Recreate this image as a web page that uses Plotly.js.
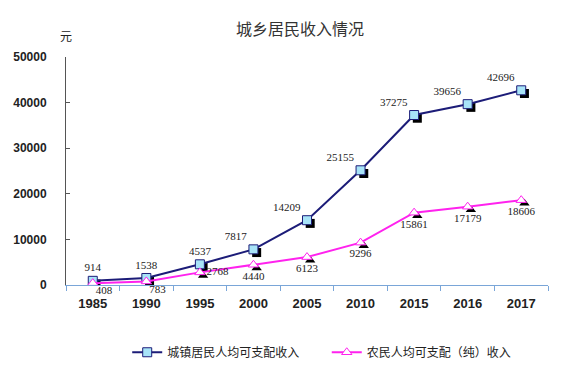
<!DOCTYPE html>
<html><head><meta charset="utf-8">
<script src="https://cdn.plot.ly/plotly-3.0.1.min.js"></script>
<style>html,body{margin:0;padding:0;background:#fff}</style>
</head><body><div id="chart" style="width:586px;height:391px"></div>
<script>
const years = ['1985','1990','1995','2000','2005','2010','2015','2016','2017'];
const urban = [914,1538,4537,7817,14209,25155,37275,39656,42696];
const rural = [408,783,2768,4440,6123,9296,15861,17179,18606];
const urbanName = '城镇居民人均可支配收入';
const ruralName = '农民人均可支配（纯）收入';
const urbanPos = ['top center','top center','top center','top left','top left','top left','top left','top left','top left'];
const ruralPos = ['bottom right','bottom right','middle right','bottom center','bottom center','bottom center','bottom center','bottom center','bottom center'];

const labelFont = {family:'Liberation Serif, Times New Roman, serif', size:11, color:'#222'};
// the first two rural labels are drawn by a separate text trace so they sit closer to their points
const nearAxis = [0,1];
const ruralText = rural.map((v,i) => nearAxis.includes(i) ? '' : String(v));

const traces = [
  // shadows on the base (hidden) axes, drawn underneath
  {x:years, y:urban, xaxis:'x', yaxis:'y', mode:'markers', showlegend:false, hoverinfo:'skip',
   marker:{symbol:'square', size:9, color:'#000'}},
  {x:years, y:rural, xaxis:'x', yaxis:'y', mode:'markers', showlegend:false, hoverinfo:'skip',
   marker:{symbol:'triangle-up', size:9, color:'#000'}},
  {x:years, y:urban, xaxis:'x2', yaxis:'y2', name:urbanName, legend:'legend',
   mode:'lines+markers+text', text:urban.map(String),
   textposition:urbanPos, textfont:labelFont, cliponaxis:false,
   line:{color:'#1c1c78', width:2},
   marker:{symbol:'square', size:9, color:'#a8e4f8', line:{color:'#1c1c78', width:1}}},
  {x:years, y:rural, xaxis:'x2', yaxis:'y2', name:ruralName, legend:'legend2',
   mode:'lines+markers+text', text:ruralText,
   textposition:ruralPos, textfont:labelFont, cliponaxis:false,
   line:{color:'#ff22ee', width:2},
   marker:{symbol:'triangle-up', size:9, color:'#ffffff', line:{color:'#ff22ee', width:1}}},
  {x:nearAxis.map(i => years[i]), y:nearAxis.map(i => rural[i]), xaxis:'x2', yaxis:'y2',
   mode:'markers+text', text:nearAxis.map(i => String(rural[i])), textposition:'bottom right',
   marker:{size:3, opacity:0}, textfont:labelFont, cliponaxis:false, showlegend:false, hoverinfo:'skip'}
];
const legendFont = {size:12, color:'#222', family:'Noto Sans CJK SC, sans-serif'};
const layout = {
  width:586, height:391,
  margin:{l:66, r:38, t:57, b:106},
  paper_bgcolor:'#fff', plot_bgcolor:'#fff',
  font:{family:'Noto Sans CJK SC, Liberation Sans, Arial, sans-serif', color:'#222'},
  title:{text:'城乡居民收入情况', x:0.512, xanchor:'center', y:0.925, yanchor:'middle',
         font:{size:16, color:'#333', family:'Noto Sans CJK SC, sans-serif'}},
  xaxis:{type:'category', range:[-0.56,8.44], visible:false},
  yaxis:{range:[700,50700], visible:false},
  xaxis2:{type:'category', overlaying:'x', anchor:'y2', side:'bottom', range:[-0.5,8.5],
         showgrid:false, zeroline:false,
         showline:true, linecolor:'#7aa6d8', linewidth:1,
         ticks:'outside', tickson:'boundaries', ticklen:5, tickcolor:'#7aa6d8', ticklabelstandoff:6,
         tickfont:{family:'Liberation Sans, Arial, sans-serif', size:13, color:'#222', weight:'bold'}},
  yaxis2:{overlaying:'y', anchor:'x2', side:'left', range:[0,50000],
         tickvals:[0,10000,20000,30000,40000,50000],
         ticktext:['0','10000','20000','30000','40000','50000'],
         showgrid:false, zeroline:false, showline:true, linecolor:'#555', linewidth:1,
         ticks:'inside', ticklen:4, tickcolor:'#555', ticklabelstandoff:16,
         tickfont:{family:'Liberation Sans, Arial, sans-serif', size:12, color:'#222', weight:'bold'}},
  showlegend:true,
  legend:{orientation:'h', x:0.127, xanchor:'left', y:-0.295, yanchor:'middle',
          font:legendFont, itemwidth:30, bgcolor:'rgba(0,0,0,0)'},
  legend2:{orientation:'h', x:0.541, xanchor:'left', y:-0.295, yanchor:'middle',
          font:legendFont, itemwidth:30, bgcolor:'rgba(0,0,0,0)'},
  annotations:[{text:'元', xref:'paper', yref:'paper', x:0, y:1.095, xanchor:'center', yanchor:'middle',
                showarrow:false, font:{size:12, color:'#222'}}]
};
Plotly.newPlot('chart', traces, layout, {displayModeBar:false, staticPlot:true});
</script></body></html>
